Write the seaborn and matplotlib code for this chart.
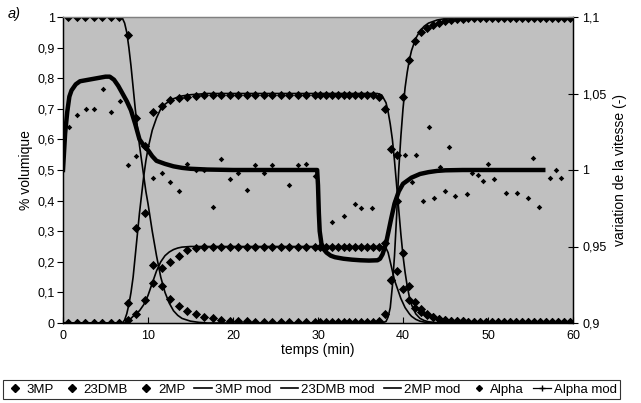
import numpy as np
import pandas as pd
import matplotlib
matplotlib.use('Agg')
import matplotlib.pyplot as plt
from matplotlib.lines import Line2D
from matplotlib.ticker import FuncFormatter, MultipleLocator
import seaborn as sns

# ---- measured compositions (left axis, volume fraction) ----
t_data = [0.6, 1.6, 2.6, 3.6, 4.6, 5.6, 6.6, 7.6, 8.6, 9.6, 10.6, 11.6, 12.6, 13.6, 14.6,
          15.6, 16.6, 17.6, 18.6, 19.6, 20.6, 21.6, 22.6, 23.6, 24.6, 25.6, 26.6, 27.6, 28.6, 29.6,
          30.2, 30.9, 31.6, 32.3, 33.0, 33.7, 34.4, 35.1, 35.8, 36.5, 37.2, 37.9, 38.6, 39.3,
          40.0, 40.7, 41.4, 42.1, 42.8, 43.5, 44.2, 44.9, 45.6, 46.3, 47.0, 47.7, 48.4, 49.1,
          49.8, 50.5, 51.2, 51.9, 52.6, 53.3, 54.0, 54.7, 55.4, 56.1, 56.8, 57.5, 58.2, 58.9, 59.6]

mp3 = [1.0, 1.0, 1.0, 1.0, 1.0, 1.0, 1.0, 0.94, 0.67, 0.36, 0.19, 0.12, 0.08, 0.055, 0.04,
       0.03, 0.02, 0.015, 0.01, 0.008, 0.006, 0.005, 0.004, 0.003, 0.003, 0.002, 0.002, 0.002, 0.002, 0.002,
       0.002, 0.002, 0.002, 0.002, 0.002, 0.002, 0.002, 0.002, 0.002, 0.002, 0.005, 0.03, 0.14, 0.55,
       0.74, 0.86, 0.92, 0.95, 0.965, 0.975, 0.982, 0.987, 0.99, 0.993, 0.995, 0.996, 0.996, 0.997,
       0.997, 0.997, 0.998, 0.998, 0.998, 0.998, 0.998, 0.998, 0.998, 0.998, 0.998, 0.998, 0.998, 0.998, 0.998]

dmb23 = [0.0, 0.0, 0.0, 0.0, 0.0, 0.0, 0.0, 0.01, 0.03, 0.075, 0.13, 0.18, 0.2, 0.22, 0.24,
         0.245, 0.248, 0.25, 0.25, 0.25, 0.25, 0.25, 0.25, 0.25, 0.25, 0.25, 0.25, 0.25, 0.25, 0.25,
         0.25, 0.25, 0.25, 0.25, 0.25, 0.25, 0.25, 0.25, 0.25, 0.25, 0.25, 0.26, 0.14, 0.17,
         0.11, 0.075, 0.05, 0.035, 0.025, 0.018, 0.012, 0.009, 0.007, 0.005, 0.005, 0.004, 0.004, 0.004,
         0.003, 0.003, 0.003, 0.003, 0.003, 0.003, 0.003, 0.003, 0.003, 0.003, 0.003, 0.003, 0.003, 0.003, 0.003]

mp2 = [0.0, 0.0, 0.0, 0.0, 0.0, 0.0, 0.0, 0.065, 0.31, 0.58, 0.69, 0.71, 0.73, 0.735, 0.74,
       0.742, 0.745, 0.745, 0.745, 0.745, 0.745, 0.745, 0.745, 0.745, 0.745, 0.745, 0.745, 0.745, 0.745, 0.745,
       0.745, 0.745, 0.745, 0.745, 0.745, 0.745, 0.745, 0.745, 0.745, 0.745, 0.74, 0.70, 0.57, 0.40,
       0.23, 0.12, 0.07, 0.045, 0.03, 0.02, 0.014, 0.01, 0.008, 0.006, 0.005, 0.004, 0.004, 0.004,
       0.003, 0.003, 0.003, 0.003, 0.003, 0.003, 0.003, 0.003, 0.003, 0.003, 0.003, 0.003, 0.003, 0.003, 0.003]

# ---- model compositions ----
t_mod = [0, 5, 6.5, 7, 7.25, 7.5, 7.75, 8, 8.25, 8.5, 8.75, 9, 9.25, 9.5, 9.75, 10, 10.5, 11, 11.5,
         12, 12.5, 13, 13.5, 14, 15, 16, 17, 18, 20, 25, 30, 35, 37, 37.5, 38, 38.25, 38.5, 38.75,
         39, 39.25, 39.5, 39.75, 40, 40.25, 40.5, 40.75, 41, 41.5, 42, 42.5, 43, 44, 45, 46, 48, 50, 55, 60]

mp3_mod = [1, 1, 1, 0.995, 0.98, 0.95, 0.9, 0.84, 0.77, 0.7, 0.64, 0.58, 0.53, 0.48, 0.43, 0.39, 0.3, 0.22, 0.15,
           0.1, 0.065, 0.04, 0.025, 0.015, 0.006, 0.002, 0, 0, 0, 0, 0, 0, 0, 0, 0.005, 0.02, 0.05, 0.12,
           0.22, 0.35, 0.5, 0.61, 0.7, 0.77, 0.82, 0.86, 0.89, 0.93, 0.955, 0.97, 0.98, 0.99, 0.995, 0.998, 1, 1, 1, 1]

dmb23_mod = [0, 0, 0, 0, 0, 0.005, 0.01, 0.015, 0.022, 0.03, 0.035, 0.04, 0.05, 0.06, 0.075, 0.09, 0.13, 0.17, 0.2,
             0.22, 0.232, 0.24, 0.245, 0.248, 0.25, 0.25, 0.25, 0.25, 0.25, 0.25, 0.25, 0.25, 0.25, 0.25, 0.245, 0.23, 0.2, 0.17,
             0.14, 0.12, 0.1, 0.08, 0.065, 0.05, 0.04, 0.03, 0.022, 0.012, 0.006, 0.003, 0.001, 0, 0, 0, 0, 0, 0, 0]

mp2_mod = [0, 0, 0, 0, 0.01, 0.03, 0.06, 0.1, 0.15, 0.22, 0.29, 0.36, 0.42, 0.48, 0.53, 0.57, 0.63, 0.67, 0.70,
           0.715, 0.725, 0.733, 0.738, 0.742, 0.746, 0.748, 0.75, 0.75, 0.75, 0.75, 0.75, 0.75, 0.75, 0.745, 0.72, 0.69, 0.65, 0.6,
           0.53, 0.45, 0.37, 0.29, 0.22, 0.165, 0.12, 0.085, 0.06, 0.03, 0.015, 0.008, 0.004, 0.001, 0, 0, 0, 0, 0, 0]

# ---- speed variation (right axis) ----
t_alpha = [0.7, 1.7, 2.7, 3.7, 4.7, 5.7, 6.7, 7.6, 8.6, 10.6, 11.6, 12.6, 13.6, 14.6, 15.6, 16.6,
           17.6, 18.6, 19.6, 20.6, 21.6, 22.6, 23.6, 24.6, 26.6, 27.6, 28.6, 29.6,
           31.7, 33.1, 34.4, 35.0, 36.3, 40.2, 41.0, 41.5, 42.3, 43.0, 43.6, 44.3, 44.9, 45.4,
           46.1, 47.5, 48.1, 48.8, 49.4, 50.0, 50.7, 52.1, 53.4, 54.7, 55.3, 56.0, 57.3, 58.0, 58.6]
alpha = [1.028, 1.036, 1.040, 1.040, 1.053, 1.038, 1.045, 1.003, 1.009, 0.995, 0.998, 0.992, 0.986, 1.004, 1.0, 1.0,
         0.976, 1.007, 0.994, 0.998, 0.987, 1.003, 0.998, 1.003, 0.990, 1.003, 1.004, 0.996,
         0.966, 0.970, 0.978, 0.975, 0.975, 1.010, 0.992, 1.010, 0.980, 1.028, 0.982, 1.002, 0.986, 1.015,
         0.983, 0.984, 0.998, 0.997, 0.993, 1.004, 0.994, 0.985, 0.985, 0.982, 1.008, 0.976, 0.995, 1.0, 0.995]

t_alpha_mod = [0, 0.25, 0.5, 0.75, 1, 1.5, 2, 3, 4, 5, 5.5, 6, 6.5, 7, 7.5, 8, 8.5, 9, 9.5, 10, 10.5, 11,
               12, 13, 14, 15, 17, 20, 25, 29.9, 30.0, 30.1, 30.2, 30.4, 30.7, 31, 31.5, 32, 33, 34, 35, 36,
               37, 37.3, 37.6, 38, 38.3, 38.6, 39, 39.5, 40, 41, 42, 43, 44, 45, 47, 50, 53, 56.5]
alpha_mod = [1.0, 1.024, 1.038, 1.048, 1.052, 1.056, 1.058, 1.059, 1.060, 1.061, 1.061, 1.059, 1.055, 1.05, 1.045,
             1.039, 1.03, 1.02, 1.016, 1.013, 1.009, 1.006, 1.004, 1.0024, 1.0014, 1.0008, 1.0003, 1.0, 1.0, 1.0,
             0.99, 0.972, 0.96, 0.952, 0.948, 0.946, 0.944, 0.943, 0.942, 0.9414, 0.941, 0.9408, 0.941, 0.942,
             0.945, 0.952, 0.96, 0.968, 0.978, 0.986, 0.991, 0.995, 0.9974, 0.9986, 0.9994, 0.9998, 1.0, 1.0, 1.0, 1.0]

plt.rcParams['font.family'] = ['Liberation Sans', 'DejaVu Sans']
plt.rcParams['font.size'] = 9

fig = plt.figure(figsize=(6.41, 4.03), dpi=100)
ax = fig.add_axes([63 / 641, 1 - 323 / 403, 510 / 641, 306 / 403])
ax.set_facecolor('#c0c0c0')
ax2 = ax.twinx()

big = dict(marker='D', color='black', s=22, linewidth=0, zorder=3)
sns.scatterplot(x=t_data, y=mp3, ax=ax, **big)
sns.scatterplot(x=t_data, y=dmb23, ax=ax, **big)
sns.scatterplot(x=t_data, y=mp2, ax=ax, **big)

for vals in (mp3_mod, dmb23_mod, mp2_mod):
    sns.lineplot(x=t_mod, y=vals, ax=ax, color='black', linewidth=1.2, zorder=4)

sns.scatterplot(x=t_alpha, y=alpha, ax=ax2, marker='D', color='black', s=8, linewidth=0, zorder=3)
sns.lineplot(x=t_alpha_mod, y=alpha_mod, ax=ax2, color='black', linewidth=3.2, zorder=4)

comma = FuncFormatter(lambda v, p: f"{round(v, 3):g}".replace('.', ','))

ax.set_xlim(0, 60)
ax.set_ylim(0, 1)
ax.xaxis.set_major_locator(MultipleLocator(10))
ax.yaxis.set_major_locator(MultipleLocator(0.1))
ax.yaxis.set_major_formatter(comma)
ax.set_xlabel('temps (min)', fontsize=10, labelpad=1)
ax.set_ylabel('% volumique', fontsize=10, labelpad=3)
ax.tick_params(axis='y', direction='out', length=4, width=0.8, labelsize=9, pad=2)
ax.tick_params(axis='x', direction='in', length=4, width=0.8, labelsize=9, pad=5)

ax2.set_ylim(0.9, 1.1)
ax2.yaxis.set_major_locator(MultipleLocator(0.05))
ax2.yaxis.set_major_formatter(comma)
ax2.set_ylabel('variation de la vitesse (-)', fontsize=10, labelpad=5)
ax2.tick_params(axis='y', direction='inout', length=7, width=0.8, labelsize=9, pad=3)

for a in (ax, ax2):
    for s in a.spines.values():
        s.set_color('black')
        s.set_linewidth(0.9)
    a.spines['top'].set_color('#808080')

fig.text(0.012, 0.955, 'a)', fontsize=10.5, style='italic')

handles = [
    Line2D([], [], linestyle='none', marker='D', color='black', markersize=4.5),
    Line2D([], [], linestyle='none', marker='D', color='black', markersize=4.5),
    Line2D([], [], linestyle='none', marker='D', color='black', markersize=4.5),
    Line2D([], [], color='black', linewidth=1.2),
    Line2D([], [], color='black', linewidth=1.2),
    Line2D([], [], color='black', linewidth=1.2),
    Line2D([], [], linestyle='none', marker='D', color='black', markersize=3),
    Line2D([], [], color='black', linewidth=0.9, marker='+', markersize=4),
]
labels = ['3MP', '23DMB', '2MP', '3MP mod', '23DMB mod', '2MP mod', 'Alpha', 'Alpha mod']
leg = fig.legend(handles, labels, loc='lower left', bbox_to_anchor=(3 / 641, 4 / 403),
                 ncol=8, fontsize=9.5, frameon=True, fancybox=False, handlelength=1.3,
                 handletextpad=0.25, columnspacing=0.7, borderpad=0.25, borderaxespad=0)
leg.get_frame().set_edgecolor('black')
leg.get_frame().set_linewidth(0.8)

fig.savefig('out.png', dpi=100)
